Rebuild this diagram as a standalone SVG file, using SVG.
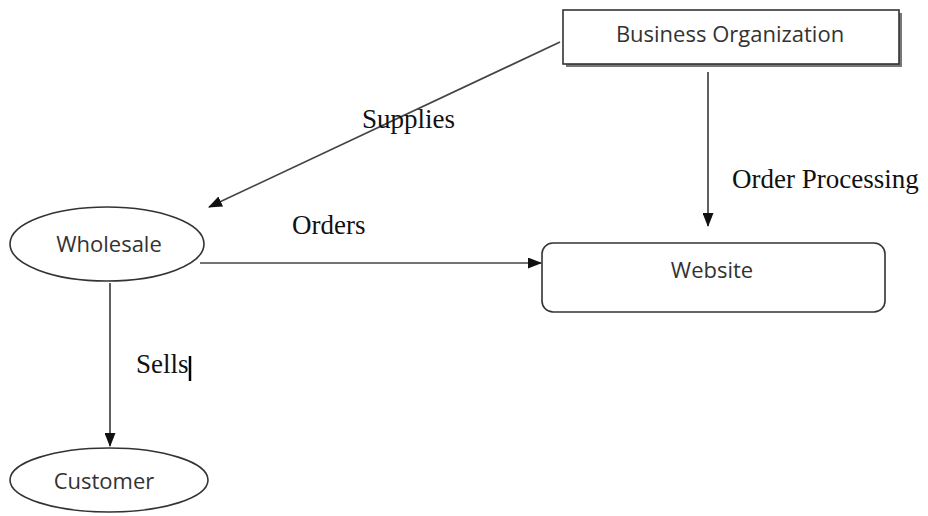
<svg xmlns="http://www.w3.org/2000/svg" width="928" height="516" viewBox="0 0 928 516">
<style>
.node{fill:#fff;stroke:#333;stroke-width:1.6}
.nt{font-family:"Open Sans","Liberation Sans",sans-serif;font-size:22px;fill:#333;text-anchor:middle}
.lt{font-family:"Liberation Serif",serif;font-size:27px;fill:#111}
.c{stroke:#444;stroke-width:1.7;fill:none;marker-end:url(#ah)}
</style>
<defs>
<marker id="ah" markerWidth="14" markerHeight="11" refX="13" refY="5.5" orient="auto" markerUnits="userSpaceOnUse">
<path d="M0,0 L14,5.5 L0,11 z" fill="#111"/>
</marker>
</defs>
<rect width="928" height="516" fill="#fff"/>
<g id="connectors">
<line class="c" x1="560" y1="42" x2="209" y2="207"/>
<line class="c" x1="708" y1="72" x2="708" y2="226"/>
<line class="c" x1="200" y1="263" x2="541" y2="263"/>
<line class="c" x1="110" y1="283" x2="110" y2="446"/>
<text class="lt" x="362" y="128">Supplies</text>
<text class="lt" x="732" y="188">Order Processing</text>
<text class="lt" x="292" y="234">Orders</text>
<text class="lt" x="136" y="373">Sells</text>
<line x1="190" y1="356" x2="190" y2="381" stroke="#000" stroke-width="2.5"/>
</g>
<g id="business">
<rect x="566" y="13" width="336" height="54" fill="#777"/>
<rect class="node" x="563" y="10" width="336" height="54"/>
<text class="nt" x="730" y="42">Business Organization</text>
</g>
<g id="wholesale">
<ellipse class="node" cx="107" cy="244" rx="97" ry="37"/>
<text class="nt" x="109" y="252">Wholesale</text>
</g>
<g id="website">
<rect class="node" x="542" y="243" width="343" height="69" rx="11"/>
<text class="nt" x="712" y="278">Website</text>
</g>
<g id="customer">
<ellipse class="node" cx="109" cy="480" rx="99" ry="32"/>
<text class="nt" x="104" y="489">Customer</text>
</g>
</svg>
